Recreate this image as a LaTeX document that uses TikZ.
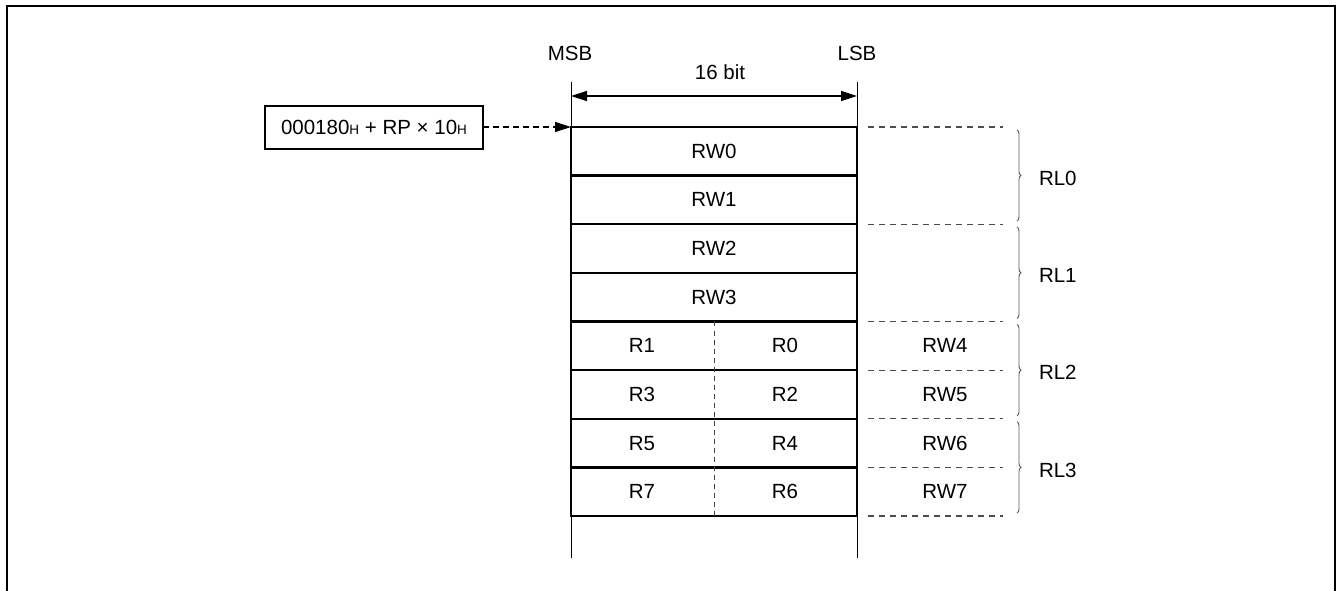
\documentclass[tikz,border=0pt]{standalone}
\usepackage{fontspec}
\setmainfont{Liberation Sans}
\usetikzlibrary{arrows.meta,decorations.pathreplacing}
\begin{document}
\begin{tikzpicture}[x=1pt,y=-1pt,
  every node/.style={font=\fontsize{20.5}{24}\selectfont, inner sep=0pt, outer sep=0pt},
  regrow/.style={draw, line width=2.4pt, minimum width=286pt, minimum height=48.625pt},
  halfdiv/.style={draw=black!75, line width=1pt, dash pattern=on 5pt off 4pt},
  rdash/.style={draw=black!70, line width=1.2pt, dash pattern=on 6pt off 5pt},
  extline/.style={draw, line width=1pt},
  rlbrace/.style={draw=black!65, line width=0.9pt, decorate, decoration={brace, amplitude=4pt}}]
\useasboundingbox (0,0) rectangle (1338,591);
% frame
\draw[line width=2pt] (7,600) -- (7,6) -- (1335,6) -- (1335,600);

% register rows
\node[regrow] (r0) at (714,151.31) {RW0};
\node[regrow] (r1) at (714,199.94) {RW1};
\node[regrow] (r2) at (714,248.56) {RW2};
\node[regrow] (r3) at (714,297.19) {RW3};
\node[regrow] (r4) at (714,345.81) {};
\node[regrow] (r5) at (714,394.44) {};
\node[regrow] (r6) at (714,443.06) {};
\node[regrow] (r7) at (714,491.69) {};

% byte labels
\node (b1) at (642,345.81) {R1}; \node (b0) at (785,345.81) {R0};
\node (b3) at (642,394.44) {R3}; \node (b2) at (785,394.44) {R2};
\node (b5) at (642,443.06) {R5}; \node (b4) at (785,443.06) {R4};
\node (b7) at (642,491.69) {R7}; \node (b6) at (785,491.69) {R6};
\draw[halfdiv] (r4.north) -- (r7.south);

% extension lines
\coordinate (msbtop) at (571,82);  \coordinate (msbbot) at (571,558);
\coordinate (lsbtop) at (857,82);  \coordinate (lsbbot) at (857,558);
\draw[extline] (msbtop) -- (msbbot);
\draw[extline] (lsbtop) -- (lsbbot);

% header labels
\node (msb) at (570,53) {MSB};
\node (lsb) at (857,53) {LSB};
\node (bits) at (720,72) {16 bit};
\coordinate (dimL) at (571,96); \coordinate (dimR) at (857,96);
\draw[line width=1.2pt, {Triangle[length=16pt,width=10pt]}-{Triangle[length=16pt,width=10pt]}] (dimL) -- (dimR);

% address box and pointer
\node[draw, line width=2.4pt, minimum width=218pt, minimum height=43pt] (addr) at (374,127.5)
  {000180{\fontsize{13.5}{14}\selectfont H} + RP × 10{\fontsize{13.5}{14}\selectfont H}};
\draw[line width=1.2pt, dash pattern=on 6pt off 4pt, -{Triangle[length=16pt,width=10pt]}] (addr.east |- r0.north west) -- (r0.north west);

% right dashed lines
\coordinate (d0) at (868,127);
\coordinate (d1) at (868,224.25);
\coordinate (d2) at (868,321.5);
\coordinate (d3) at (868,370.13);
\coordinate (d4) at (868,418.75);
\coordinate (d5) at (868,467.38);
\coordinate (d6) at (868,516);
\foreach \d in {d0,d1,d2,d3,d4,d5,d6} \draw[rdash] (\d) -- ++(135,0);

% word labels
\node (w4) at (945,345.81) {RW4};
\node (w5) at (945,394.44) {RW5};
\node (w6) at (945,443.06) {RW6};
\node (w7) at (945,491.69) {RW7};

% braces
\coordinate (k0a) at (1017,130);   \coordinate (k0b) at (1017,221);
\coordinate (k1a) at (1017,227);   \coordinate (k1b) at (1017,318.5);
\coordinate (k2a) at (1017,324.5); \coordinate (k2b) at (1017,415.75);
\coordinate (k3a) at (1017,421.75);\coordinate (k3b) at (1017,513);
\draw[rlbrace] (k0a) -- (k0b);
\draw[rlbrace] (k1a) -- (k1b);
\draw[rlbrace] (k2a) -- (k2b);
\draw[rlbrace] (k3a) -- (k3b);
\node[anchor=west] (rl0) at (1039,178) {RL0};
\node[anchor=west] (rl1) at (1039,275.5) {RL1};
\node[anchor=west] (rl2) at (1039,372.5) {RL2};
\node[anchor=west] (rl3) at (1039,470) {RL3};
\end{tikzpicture}
\end{document}
